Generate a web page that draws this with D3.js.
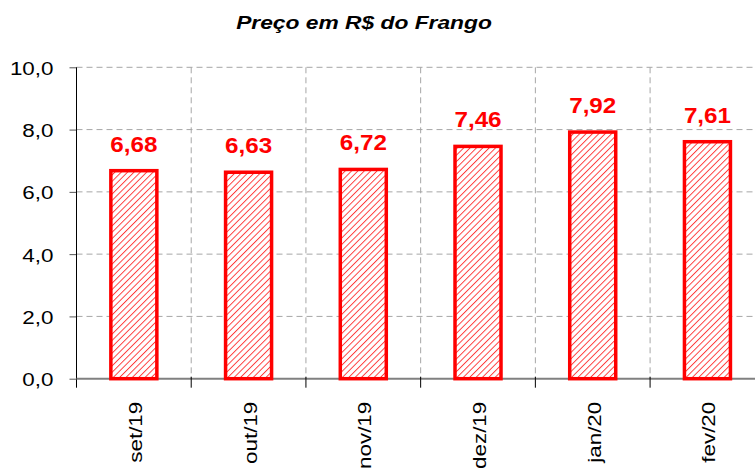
<!DOCTYPE html>
<html>
<head>
<meta charset="utf-8">
<script src="https://cdn.jsdelivr.net/npm/d3@7"></script>
<style>
  body { margin: 0; background: #fff; }
  text { font-family: "Liberation Sans", Arial, sans-serif; }
</style>
</head>
<body>
<div id="chart"></div>
<script>
// chart data
var months = ["set/19", "out/19", "nov/19", "dez/19", "jan/20", "fev/20"];
var prices = [6.68, 6.63, 6.72, 7.46, 7.92, 7.61];
var yTicks = [0, 2, 4, 6, 8, 10];
var title = "Preço em R$ do Frango";

var W = 755, H = 468;
var plotL = 76.5, plotR = 764.8, plotT = 67.3, plotB = 378.7;
var stretch = 1.18; // the reference font is a bit wider than arial

var svg = d3.select("#chart").append("svg")
    .attr("width", W)
    .attr("height", H);

// hatch pattern like excel light upward diagonal
var defs = svg.append("defs");
var pat = defs.append("pattern")
    .attr("id", "hatch")
    .attr("patternUnits", "userSpaceOnUse")
    .attr("width", 4.5)
    .attr("height", 4.5)
    .attr("patternTransform", "rotate(45)");
pat.append("rect").attr("width", 4.5).attr("height", 4.5).attr("fill", "#fff");
pat.append("line")
    .attr("x1", 0).attr("y1", 0).attr("x2", 0).attr("y2", 4.5)
    .attr("stroke", "#ff3a3a").attr("stroke-width", 1.9);

var x = d3.scaleBand().domain(months).range([plotL, plotR]).padding(0);
var y = d3.scaleLinear().domain([0, 10]).range([plotB, plotT]);
var fmt = function(v, n) { return v.toFixed(n).replace(".", ","); };

// title
svg.append("text")
    .attr("transform", "translate(364,29) scale(1.2,1)")
    .attr("text-anchor", "middle")
    .style("font-size", "19px")
    .style("font-weight", "bold")
    .style("font-style", "italic")
    .text(title);

// horizontal grid
svg.selectAll(".hgrid")
    .data(yTicks.filter(function(t) { return t > 0; }))
    .enter().append("line")
    .attr("x1", plotL).attr("x2", plotR)
    .attr("y1", function(d) { return y(d); })
    .attr("y2", function(d) { return y(d); })
    .attr("stroke", "#a6a6a6")
    .attr("stroke-dasharray", "6,4");

// vertical grid at category boundaries
svg.selectAll(".vgrid")
    .data(months)
    .enter().append("line")
    .attr("x1", function(d) { return x(d) + x.bandwidth(); })
    .attr("x2", function(d) { return x(d) + x.bandwidth(); })
    .attr("y1", plotT).attr("y2", plotB)
    .attr("stroke", "#a6a6a6")
    .attr("stroke-dasharray", "6,4");

// y axis
var yAxis = svg.append("g")
    .attr("transform", "translate(" + plotL + ",0)")
    .call(d3.axisLeft(y).tickValues(yTicks).tickSize(7)
        .tickFormat(function(d) { return fmt(d, 1); }));
yAxis.select(".domain").remove();
yAxis.selectAll(".tick line").attr("stroke", "#555");
yAxis.selectAll(".tick text")
    .attr("x", null)
    .attr("dy", null)
    .attr("transform", "translate(-23,7) scale(" + stretch + ",1)")
    .style("font-size", "19px")
    .attr("fill", "#000");
svg.append("line")
    .attr("x1", plotL).attr("x2", plotL)
    .attr("y1", plotT).attr("y2", plotB + 9)
    .attr("stroke", "#000");

// x axis
svg.append("line")
    .attr("x1", plotL).attr("x2", plotR)
    .attr("y1", plotB).attr("y2", plotB)
    .attr("stroke", "#808080").attr("stroke-width", 2);
svg.selectAll(".xtick")
    .data(months)
    .enter().append("line")
    .attr("x1", function(d) { return x(d) + x.bandwidth(); })
    .attr("x2", function(d) { return x(d) + x.bandwidth(); })
    .attr("y1", plotB - 2).attr("y2", plotB + 9)
    .attr("stroke", "#000");
svg.selectAll(".xlabel")
    .data(months)
    .enter().append("text")
    .attr("transform", function(d) {
        return "translate(" + (x(d) + x.bandwidth() / 2 + 8) + "," + (plotB + 23) +
            ") rotate(-90) scale(" + stretch + ",1)";
    })
    .attr("text-anchor", "end")
    .style("font-size", "19px")
    .text(function(d) { return d; });

// bars
var barW = 46;
svg.selectAll(".bar")
    .data(prices)
    .enter().append("rect")
    .attr("x", function(d, i) { return x(months[i]) + (x.bandwidth() - barW) / 2; })
    .attr("y", function(d) { return y(d); })
    .attr("width", barW)
    .attr("height", function(d) { return plotB - y(d); })
    .attr("fill", "url(#hatch)")
    .attr("stroke", "#ff0000")
    .attr("stroke-width", 3.5);

// value labels
svg.selectAll(".val")
    .data(prices)
    .enter().append("text")
    .attr("transform", function(d, i) {
        return "translate(" + (x(months[i]) + x.bandwidth() / 2) + "," + (y(d) - 19) + ") scale(1.1,1)";
    })
    .attr("text-anchor", "middle")
    .attr("fill", "#ff0000")
    .style("font-size", "22px")
    .style("font-weight", "bold")
    .text(function(d) { return fmt(d, 2); });
</script>
</body>
</html>
